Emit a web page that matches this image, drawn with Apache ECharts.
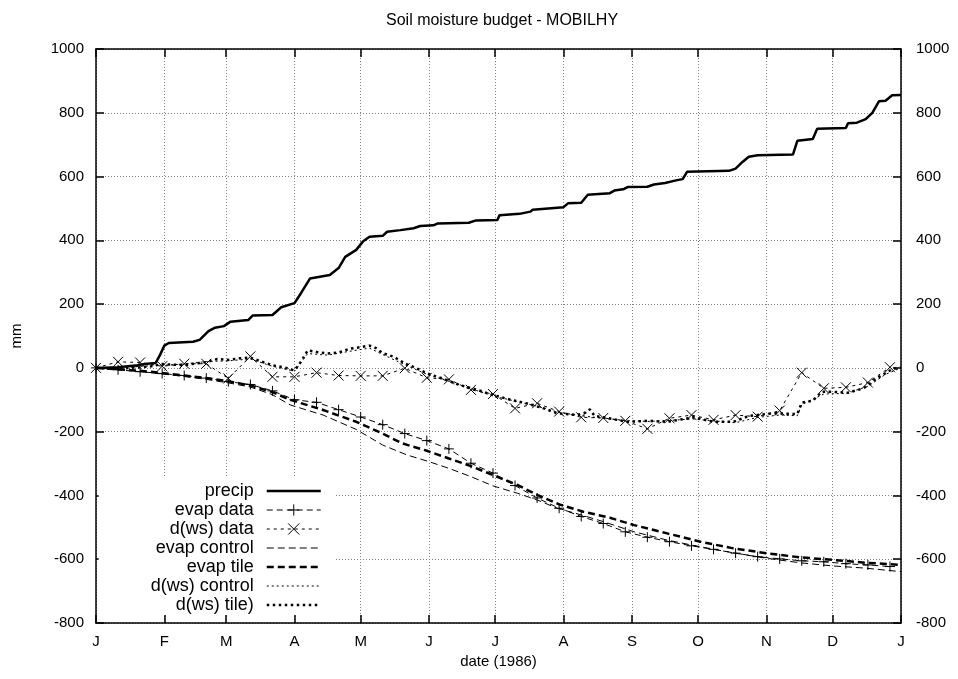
<!DOCTYPE html>
<html>
<head>
<meta charset="utf-8">
<script src="https://cdn.jsdelivr.net/npm/echarts@6/dist/echarts.min.js"></script>
<style>
  html, body { margin: 0; padding: 0; background: #fff; }
  #chart { width: 958px; height: 679px; }
</style>
</head>
<body>
<div id="chart"></div>
<script>
// Month starts (day of year, 1986) and their one-letter labels
const monthDays = [0, 31, 59, 90, 120, 151, 181, 212, 243, 273, 304, 334, 365];
const monthLabels = ['J', 'F', 'M', 'A', 'M', 'J', 'J', 'A', 'S', 'O', 'N', 'D', 'J'];

// Cumulative precipitation, mm  [day, value]
const precip = [
  [0, 0], [10, 2], [19, 8], [22, 12], [27, 15], [29, 40], [31, 70], [33, 78], [44, 82], [47, 88],
  [51, 115], [54, 126], [58, 131], [61, 145], [69, 150], [71, 164], [80, 166], [84, 190], [90, 203],
  [93, 235], [97, 280], [106, 291], [110, 313], [113, 348], [118, 370], [121, 396], [124, 411],
  [130, 414], [132, 427], [138, 432], [144, 438], [147, 445], [153, 447], [155, 453], [169, 455],
  [172, 462], [182, 464], [183, 479], [192, 483], [197, 490], [198, 496], [212, 504], [214, 516],
  [220, 518], [223, 543], [233, 548], [235, 556], [239, 560], [241, 567], [250, 568], [253, 575],
  [258, 580], [263, 588], [266, 592], [268, 615], [287, 618], [290, 625], [293, 645], [296, 662],
  [300, 667], [316, 669], [318, 712], [325, 718], [327, 750], [340, 752], [341, 767], [345, 769],
  [349, 780], [352, 800], [355, 836], [358, 838], [361, 855], [365, 856]
];

// Observed cumulative evaporation, every 10 days
const evapData = [
  [0, 0], [10, -6], [20, -12], [30, -18], [40, -24], [50, -32], [60, -43], [70, -52], [80, -72],
  [90, -100], [100, -108], [110, -131], [120, -154], [130, -178], [140, -206], [150, -228],
  [160, -254], [170, -299], [180, -330], [190, -369], [200, -408], [210, -440], [220, -466],
  [230, -488], [240, -514], [250, -531], [260, -545], [270, -558], [280, -569], [290, -581],
  [300, -592], [310, -599], [320, -605], [330, -608], [340, -614], [350, -618], [360, -623]
];

// Observed change of soil water storage, every 10 days
const dwsData = [
  [0, 0], [10, 19], [20, 17], [30, 5], [40, 13], [50, 13], [60, -33], [70, 36], [80, -28],
  [90, -28], [100, -15], [110, -24], [120, -25], [130, -25], [140, -1], [150, -31], [160, -36],
  [170, -69], [180, -82], [190, -127], [200, -111], [210, -137], [220, -155], [230, -157],
  [240, -166], [250, -191], [260, -158], [270, -148], [280, -163], [290, -148], [300, -153],
  [310, -134], [320, -15], [330, -64], [340, -61], [350, -46], [360, 2]
];

// Simulated cumulative evaporation: control run
const evapControl = [
  [0, 0], [10, -5], [20, -11], [30, -19], [40, -27], [50, -36], [60, -47], [70, -60], [80, -84],
  [88, -116], [103, -148], [118, -193], [130, -242], [141, -273], [151, -294], [160, -315],
  [170, -341], [180, -370], [191, -393], [200, -414], [209, -440], [220, -461], [230, -482],
  [244, -514], [259, -540], [274, -561], [289, -580], [304, -597], [319, -611], [334, -621],
  [349, -628], [365, -639]
];

// Simulated cumulative evaporation: tile run
const evapTile = [
  [0, 0], [10, -4], [20, -9], [30, -16], [40, -24], [50, -32], [60, -42], [70, -55], [80, -76],
  [88, -100], [103, -132], [118, -169], [129, -203], [139, -237], [150, -260], [160, -284],
  [170, -308], [180, -336], [191, -367], [200, -398], [210, -428], [221, -451], [233, -470],
  [244, -493], [259, -519], [274, -545], [289, -566], [304, -581], [319, -594], [334, -602],
  [349, -611], [365, -618]
];

// Simulated change of soil water storage: control run
const dwsControl = [
  [0, 0], [10, -2], [20, 5], [30, 8], [40, 12], [50, 20], [60, 22], [70, 28], [80, 5], [90, -10],
  [96, 45], [105, 40], [115, 52], [124, 62], [130, 42], [140, 10], [150, -20], [160, -42],
  [170, -65], [180, -88], [190, -104], [200, -120], [210, -140], [220, -150], [230, -158],
  [240, -165], [250, -168], [260, -165], [270, -160], [280, -166], [290, -172], [300, -155],
  [310, -148], [318, -150], [320, -115], [330, -82], [340, -80], [350, -58], [358, -20], [365, 0]
];

// Simulated change of soil water storage: tile run
const dwsTile = [
  [0, 0], [5, -2], [10, -3], [15, 0], [20, 2], [25, 5], [30, 12], [35, 10], [40, 8], [45, 14],
  [50, 18], [55, 28], [60, 25], [65, 30], [70, 32], [75, 20], [80, 8], [85, 2], [90, -8], [93, 20],
  [96, 55], [100, 50], [105, 45], [110, 48], [115, 60], [120, 65], [124, 70], [127, 62], [130, 46],
  [135, 35], [140, 14], [145, 0], [150, -17], [157, -33], [165, -54], [173, -69], [180, -85],
  [188, -100], [195, -111], [203, -127], [209, -142], [218, -148], [222, -140], [224, -130],
  [226, -150], [230, -155], [241, -169], [250, -166], [259, -169], [271, -155], [280, -169],
  [289, -169], [296, -151], [307, -142], [318, -145], [320, -109], [325, -103], [329, -75],
  [334, -75], [341, -78], [348, -64], [354, -33], [361, -4], [365, 2]
];

const FONT = 'Liberation Sans, Arial, Helvetica, sans-serif';
const PLUS = 'path://M0,5L10,5M5,0L5,10';
const CROSS = 'path://M0,0L10,10M0,10L10,0';

function lineSeries(name, data, width, dash, symbol) {
  return {
    name: name,
    type: 'line',
    data: data,
    symbol: symbol || 'circle',
    showSymbol: !!symbol,
    symbolSize: 10,
    animation: false,
    itemStyle: { color: '#000', borderColor: '#000', borderWidth: 1 },
    lineStyle: { color: '#000', width: width, type: dash },
    emphasis: { disabled: true }
  };
}

// key entries: plain line samples hide the default marker
const hidden = { color: 'rgba(0,0,0,0)', borderColor: 'rgba(0,0,0,0)', borderWidth: 0 };
function keyItem(name, withMarker) {
  return withMarker ? { name: name } : { name: name, itemStyle: hidden };
}

const chart = echarts.init(document.getElementById('chart'), null, { renderer: 'canvas' });

const gridDotted = { show: true, lineStyle: { color: '#808080', width: 1, type: [1, 2] } };
const numLabel = function (v) { return String(v); };

chart.setOption({
  backgroundColor: '#fff',
  animation: false,
  textStyle: { fontFamily: FONT },
  title: {
    text: 'Soil moisture budget - MOBILHY',
    left: 381,
    top: 8,
    textStyle: { fontFamily: FONT, fontSize: 16, fontWeight: 'normal', color: '#000' }
  },
  grid: { left: 96, top: 49, width: 805, height: 574, containLabel: false },
  legend: {
    orient: 'vertical',
    right: 623,
    top: 478,
    align: 'right',
    itemWidth: 54,
    itemHeight: 14,
    itemGap: 1,
    padding: [4, 13, 1, 52],
    backgroundColor: '#fff',
    selectedMode: false,
    textStyle: { fontFamily: FONT, fontSize: 18, color: '#000', padding: [0, 8, 0, 0] },
    lineStyle: { width: 'inherit' },
    itemStyle: { borderWidth: 'inherit' },
    data: [
      keyItem('precip', false),
      keyItem('evap data', true),
      keyItem('d(ws) data', true),
      keyItem('evap control', false),
      keyItem('evap tile', false),
      keyItem('d(ws) control', false),
      keyItem('d(ws) tile)', false)
    ]
  },
  xAxis: [
    {
      type: 'value',
      min: 0,
      max: 365,
      name: 'date (1986)',
      nameLocation: 'middle',
      nameGap: 31,
      nameTextStyle: { fontFamily: FONT, fontSize: 15, color: '#000' },
      axisLine: { show: true, onZero: false, lineStyle: { color: '#000', width: 1.5 } },
      axisTick: { show: true, inside: true, length: 8, customValues: monthDays, lineStyle: { color: '#000', width: 1.5 } },
      axisLabel: {
        customValues: monthDays,
        margin: 11,
        fontFamily: FONT, fontSize: 15, color: '#000',
        formatter: function (v) { return monthLabels[monthDays.indexOf(v)]; }
      },
      splitLine: gridDotted
    },
    {
      type: 'value',
      position: 'top',
      min: 0,
      max: 365,
      axisLine: { show: true, onZero: false, lineStyle: { color: '#000', width: 1.5 } },
      axisTick: { show: true, inside: true, length: 8, customValues: monthDays, lineStyle: { color: '#000', width: 1.5 } },
      axisLabel: { show: false },
      splitLine: { show: false }
    }
  ],
  yAxis: [
    {
      type: 'value',
      min: -800,
      max: 1000,
      interval: 200,
      name: 'mm',
      nameLocation: 'middle',
      nameGap: 72,
      nameTextStyle: { fontFamily: FONT, fontSize: 15, color: '#000' },
      axisLine: { show: true, onZero: false, lineStyle: { color: '#000', width: 1.5 } },
      axisTick: { show: true, inside: true, length: 8, lineStyle: { color: '#000', width: 1.5 } },
      axisLabel: { margin: 12, fontFamily: FONT, fontSize: 15, color: '#000', formatter: numLabel },
      splitLine: gridDotted
    },
    {
      type: 'value',
      position: 'right',
      min: -800,
      max: 1000,
      interval: 200,
      axisLine: { show: true, onZero: false, lineStyle: { color: '#000', width: 1.5 } },
      axisTick: { show: true, inside: true, length: 8, lineStyle: { color: '#000', width: 1.5 } },
      axisLabel: { margin: 15, fontFamily: FONT, fontSize: 15, color: '#000', formatter: numLabel },
      splitLine: { show: false }
    }
  ],
  series: [
    lineSeries('precip', precip, 2.5, 'solid'),
    lineSeries('evap data', evapData, 1, [6, 4], PLUS),
    lineSeries('d(ws) data', dwsData, 1, [3, 4], CROSS),
    lineSeries('evap control', evapControl, 1, [7, 4]),
    lineSeries('evap tile', evapTile, 2.5, [7, 4]),
    lineSeries('d(ws) control', dwsControl, 1, [2, 3]),
    lineSeries('d(ws) tile)', dwsTile, 2.5, [2.5, 3.5])
  ]
});
</script>
</body>
</html>
